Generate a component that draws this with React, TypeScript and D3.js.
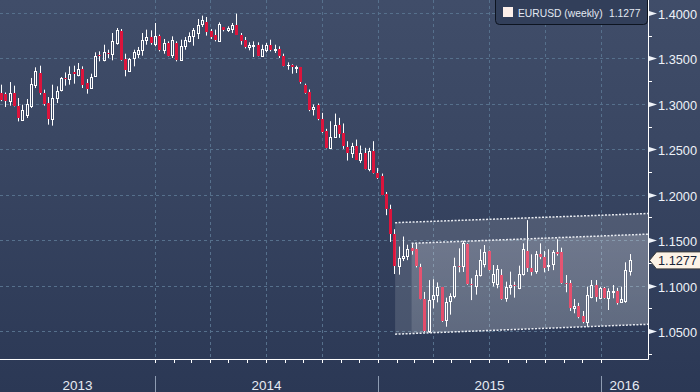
import React from "react";
import * as d3 from "d3";

// weekly EURUSD candles
const open = [1.3119,1.3112,1.3027,1.3119,1.2972,1.2826,1.2881,1.2980,1.3211,1.3339,1.3119,1.3009,1.2833,1.3064,1.3148,1.3281,1.3273,1.3347,1.3321,1.3384,1.3229,1.3174,1.3303,1.3541,1.3486,1.3560,1.3552,1.3670,1.3806,1.3494,1.3358,1.3505,1.3549,1.3589,1.3699,1.3736,1.3662,1.3751,1.3589,1.3670,1.3541,1.3670,1.3486,1.3633,1.3688,1.3743,1.3780,1.3883,1.3905,1.3798,1.3762,1.3688,1.3842,1.3809,1.3824,1.3872,1.3762,1.3706,1.3626,1.3637,1.3651,1.3530,1.3589,1.3651,1.3589,1.3604,1.3530,1.3424,1.3431,1.3398,1.3402,1.3211,1.3136,1.2938,1.2982,1.2835,1.2706,1.2516,1.2637,1.2772,1.2681,1.2527,1.2454,1.2541,1.2380,1.2461,1.2284,1.2479,1.2240,1.2204,1.2007,1.1847,1.1570,1.1210,1.1300,1.1320,1.1410,1.1400,1.1200,1.0850,1.0500,1.0850,1.0900,1.0980,1.0620,1.0833,1.0885,1.1220,1.1220,1.1455,1.1020,1.1000,1.1116,1.1234,1.1380,1.1043,1.1014,1.1116,1.0860,1.0980,1.1003,1.0977,1.1124,1.1380,1.1190,1.1164,1.1344,1.1310,1.1210,1.1234,1.1366,1.1366,1.1028,1.1025,1.0750,1.0775,1.0665,1.0602,1.0878,1.1006,1.0867,1.0970,1.0867,1.0930,1.0940,1.0815,1.0830,1.1160];
const high = [1.3211,1.3125,1.3240,1.3200,1.3064,1.2991,1.3053,1.3285,1.3402,1.3420,1.3156,1.3075,1.3211,1.3193,1.3295,1.3346,1.3413,1.3420,1.3450,1.3413,1.3273,1.3332,1.3567,1.3578,1.3651,1.3596,1.3780,1.3835,1.3824,1.3552,1.3505,1.3596,1.3626,1.3780,1.3817,1.3809,1.3890,1.3762,1.3714,1.3688,1.3743,1.3688,1.3706,1.3736,1.3787,1.3835,1.3934,1.3971,1.3956,1.3824,1.3817,1.3897,1.3846,1.3853,1.3890,1.3993,1.3780,1.3736,1.3677,1.3688,1.3677,1.3651,1.3670,1.3706,1.3651,1.3633,1.3552,1.3457,1.3435,1.3420,1.3406,1.3222,1.3158,1.2993,1.3004,1.2901,1.2725,1.2809,1.2893,1.2846,1.2784,1.2589,1.2571,1.2607,1.2541,1.2516,1.2516,1.2589,1.2295,1.2233,1.2030,1.1890,1.1620,1.1430,1.1540,1.1450,1.1460,1.1460,1.1240,1.0930,1.1060,1.1070,1.1035,1.0985,1.0867,1.0915,1.1307,1.1410,1.1490,1.1465,1.1080,1.1170,1.1400,1.1446,1.1385,1.1226,1.1226,1.1180,1.1043,1.1153,1.1043,1.1219,1.1465,1.1720,1.1344,1.1380,1.1465,1.1380,1.1400,1.1390,1.1510,1.1417,1.1116,1.1060,1.0852,1.0810,1.0720,1.0988,1.1061,1.1061,1.0985,1.0985,1.0970,1.1006,1.0975,1.0988,1.1256,1.1347];
const low = [1.3030,1.2965,1.2980,1.2972,1.2807,1.2820,1.2844,1.2954,1.3174,1.3101,1.2980,1.2771,1.2760,1.3009,1.3137,1.3200,1.3211,1.3222,1.3303,1.3174,1.3112,1.3170,1.3300,1.3468,1.3468,1.3505,1.3479,1.3651,1.3475,1.3303,1.3350,1.3413,1.3505,1.3530,1.3651,1.3651,1.3633,1.3578,1.3552,1.3523,1.3505,1.3468,1.3479,1.3596,1.3677,1.3640,1.3714,1.3846,1.3751,1.3714,1.3688,1.3685,1.3798,1.3791,1.3780,1.3760,1.3651,1.3610,1.3589,1.3516,1.3523,1.3516,1.3567,1.3578,1.3560,1.3505,1.3413,1.3376,1.3332,1.3339,1.3222,1.3112,1.2919,1.2872,1.2820,1.2680,1.2510,1.2508,1.2626,1.2626,1.2505,1.2376,1.2405,1.2385,1.2350,1.2280,1.2258,1.2233,1.2174,1.1995,1.1775,1.1480,1.1127,1.1120,1.1270,1.1280,1.1340,1.1200,1.0850,1.0490,1.0480,1.0750,1.0815,1.0600,1.0547,1.0680,1.0860,1.1146,1.1150,1.1010,1.0840,1.0900,1.1100,1.1200,1.1165,1.0990,1.0970,1.0845,1.0822,1.0900,1.0867,1.0960,1.1110,1.1150,1.1110,1.1130,1.1290,1.1146,1.1160,1.1170,1.1330,1.1020,1.0926,1.0720,1.0695,1.0640,1.0585,1.0547,1.0860,1.0822,1.0850,1.0855,1.0731,1.0860,1.0790,1.0810,1.0810,1.1110];
const close = [1.3046,1.3027,1.3119,1.2980,1.2844,1.2936,1.3002,1.3222,1.3358,1.3119,1.3002,1.2833,1.3064,1.3137,1.3284,1.3273,1.3332,1.3332,1.3384,1.3211,1.3167,1.3295,1.3530,1.3523,1.3567,1.3549,1.3688,1.3809,1.3479,1.3369,1.3494,1.3567,1.3596,1.3706,1.3736,1.3670,1.3751,1.3589,1.3670,1.3530,1.3706,1.3479,1.3640,1.3699,1.3751,1.3809,1.3872,1.3919,1.3787,1.3736,1.3699,1.3883,1.3809,1.3835,1.3872,1.3762,1.3688,1.3622,1.3644,1.3644,1.3530,1.3604,1.3651,1.3589,1.3604,1.3523,1.3420,1.3431,1.3402,1.3406,1.3237,1.3119,1.2934,1.2967,1.2835,1.2688,1.2516,1.2637,1.2772,1.2673,1.2534,1.2454,1.2541,1.2387,1.2461,1.2284,1.2479,1.2240,1.2185,1.2002,1.1847,1.1570,1.1210,1.1300,1.1325,1.1400,1.1380,1.1210,1.0855,1.0500,1.0840,1.0900,1.0980,1.0610,1.0815,1.0885,1.1220,1.1207,1.1466,1.1017,1.1005,1.1120,1.1280,1.1366,1.1170,1.1127,1.1180,1.0849,1.0988,1.1006,1.0993,1.1124,1.1403,1.1190,1.1153,1.1344,1.1310,1.1197,1.1226,1.1366,1.1347,1.1025,1.1014,1.0750,1.0778,1.0657,1.0602,1.0896,1.1006,1.0878,1.0970,1.0867,1.0940,1.0936,1.0805,1.0849,1.1171,1.1277];
const firstWeek = Date.UTC(2013, 3, 24);

const majorTicks = [1.05, 1.1, 1.15, 1.2, 1.25, 1.3, 1.35, 1.4];
const minorTicks = [1.025, 1.075, 1.125, 1.175, 1.225, 1.275, 1.325, 1.375];
const years = [2013, 2014, 2015, 2016];
const lastPrice = 1.1277;
const seriesName = "EURUSD (weekly)";

// trading channel drawn on the chart
const outerTop = [{ date: "2015-01-29", value: 1.1692 }, { date: "2016-03-18", value: 1.1793 }];
const innerTop = [{ date: "2015-02-25", value: 1.1465 }, { date: "2016-03-18", value: 1.1566 }];
const channelBottom = [{ date: "2015-01-29", value: 1.0465 }, { date: "2016-03-18", value: 1.0574 }];

const W = 700, H = 392;
const right = 648, bottom = 359;
const RED = "#dc143c";
const FONT = "'Liberation Sans', Arial, sans-serif";

export default function App() {
  const x = d3.scaleUtc().domain([new Date(Date.UTC(2014, 0, 1)), new Date(Date.UTC(2016, 0, 1))]).range([155, 601]);
  const y = d3.scaleLinear().domain([1.05, 1.4]).range([331, 13]);
  const dates = open.map((_, i) => new Date(firstWeek + i * 7 * 864e5));

  const months = x.ticks(d3.utcMonth.every(1)).filter((d) => x(d) >= 0 && x(d) <= right);
  const quarters = months.filter((d) => d.getUTCMonth() % 3 === 0);
  const yearStarts = years.map((yr) => new Date(Date.UTC(yr, 0, 1)));

  const pt = (p: { date: string; value: number }) => [x(new Date(p.date)), y(p.value)] as [number, number];
  const bottomAt = d3.scaleUtc()
    .domain(channelBottom.map((p) => new Date(p.date)))
    .range(channelBottom.map((p) => p.value));
  const innerLeftDate = new Date(innerTop[0].date);
  const outerPoly = [pt(outerTop[0]), pt(outerTop[1]), pt(channelBottom[1]), pt(channelBottom[0])];
  const innerPoly = [pt(innerTop[0]), pt(innerTop[1]), pt(channelBottom[1]), [x(innerLeftDate), y(bottomAt(innerLeftDate))]];
  const poly = (ps: number[][]) => "M" + ps.map((p) => p.join(",")).join("L") + "Z";
  const line = d3.line();

  const yLast = y(lastPrice);

  return (
    <svg width={W} height={H} style={{ position: "absolute", left: 0, top: 0 }} fontFamily={FONT}>
      <defs>
        <linearGradient id="bg" x1="0" y1="0" x2="0" y2="1">
          <stop offset="0" stopColor="#404d69" />
          <stop offset="0.35" stopColor="#3a4763" />
          <stop offset="1" stopColor="#2b3855" />
        </linearGradient>
        <linearGradient id="chan" x1="0" y1="0" x2="0" y2="1">
          <stop offset="0" stopColor="#fff" stopOpacity="0.19" />
          <stop offset="1" stopColor="#fff" stopOpacity="0.12" />
        </linearGradient>
        <clipPath id="plot">
          <rect x={0} y={0} width={right} height={bottom} />
        </clipPath>
      </defs>
      <rect width={W} height={H} fill="url(#bg)" />

      {/* grid */}
      <g stroke="#56708c" strokeDasharray="3,3" strokeWidth={1}>
        {majorTicks.map((t) => (
          <line key={t} x1={0} x2={right} y1={Math.round(y(t)) + 0.5} y2={Math.round(y(t)) + 0.5} />
        ))}
        {quarters.map((d) => (
          <line key={+d} x1={Math.round(x(d)) + 0.5} x2={Math.round(x(d)) + 0.5} y1={0} y2={bottom} />
        ))}
      </g>

      {/* candles */}
      <g clipPath="url(#plot)">
        {dates.map((d, i) => {
          const cx = Math.round(x(d)) + 0.5;
          const o = open[i], c = close[i];
          const yT = Math.round(y(Math.max(o, c)));
          const yB = Math.round(y(Math.min(o, c)));
          const yH = y(high[i]), yL = y(low[i]);
          if (c >= o) {
            return (
              <g key={i} stroke="#fff" fill="none" strokeWidth={1}>
                <line x1={cx} x2={cx} y1={yH} y2={yT} />
                <line x1={cx} x2={cx} y1={yB} y2={yL} />
                {yB - yT < 1 ? (
                  <line x1={cx - 1.5} x2={cx + 1.5} y1={yT + 0.5} y2={yT + 0.5} />
                ) : (
                  <rect x={cx - 1} y={yT + 0.5} width={2} height={yB - yT} />
                )}
              </g>
            );
          }
          return (
            <g key={i}>
              <line x1={cx} x2={cx} y1={yH} y2={yL} stroke="#fff" strokeWidth={1} />
              <rect x={cx - 1.5} y={yT} width={3} height={Math.max(1, yB - yT)} fill={RED} />
            </g>
          );
        })}
      </g>

      {/* channel */}
      <g clipPath="url(#plot)">
        <path d={poly(outerPoly)} fill="#fff" fillOpacity={0.13} />
        <path d={poly(innerPoly)} fill="url(#chan)" />
        <g fill="none" stroke="#e8ebf1" strokeWidth={1.5} strokeDasharray="2,1.5">
          <path d={line([pt(outerTop[0]), pt(outerTop[1])]) as string} />
          <path d={line([pt(innerTop[0]), pt(innerTop[1])]) as string} />
          <path d={line([pt(channelBottom[0]), pt(channelBottom[1])]) as string} />
        </g>
      </g>

      {/* x axis */}
      <g stroke="#fff" strokeWidth={1}>
        <line x1={0} x2={right + 0.5} y1={bottom + 0.5} y2={bottom + 0.5} />
        {months.map((d) => (
          <line key={+d} x1={Math.round(x(d)) + 0.5} x2={Math.round(x(d)) + 0.5} y1={bottom} y2={bottom + 4} />
        ))}
      </g>
      <g stroke="#8e9cb2" strokeWidth={1}>
        {yearStarts.filter((d) => x(d) > 0 && x(d) < right).map((d) => (
          <line key={+d} x1={Math.round(x(d)) + 0.5} x2={Math.round(x(d)) + 0.5} y1={376} y2={H} />
        ))}
      </g>
      <g fill="#e6ebf3" fontSize={13.5} textAnchor="middle">
        {years.map((yr) => {
          const a = Math.max(0, x(new Date(Date.UTC(yr, 0, 1))));
          const b = Math.min(right, x(new Date(Date.UTC(yr + 1, 0, 1))));
          return (
            <text key={yr} x={(a + b) / 2} y={390}>{yr}</text>
          );
        })}
      </g>

      {/* y axis */}
      <g stroke="#fff" strokeWidth={1}>
        <line x1={right + 0.5} x2={right + 0.5} y1={0} y2={bottom + 0.5} />
        {minorTicks.map((t) => (
          <line key={t} x1={right} x2={right + 4} y1={Math.round(y(t)) + 0.5} y2={Math.round(y(t)) + 0.5} />
        ))}
      </g>
      <g fill="#eef2f8" fontSize={13.5}>
        {majorTicks.map((t) => {
          const yy = Math.round(y(t)) + 0.5;
          return (
            <g key={t}>
              <path d={`M${right + 1},${yy - 2.5}L${right + 9},${yy}L${right + 1},${yy + 2.5}Z`} />
              <text x={658} y={yy + 5} textLength={39} lengthAdjust="spacingAndGlyphs">{d3.format(".4f")(t)}</text>
            </g>
          );
        })}
      </g>

      {/* last price tag */}
      <path
        d={`M${right + 1.5},${yLast}L${right + 8.5},${yLast - 8.5}L${W + 1},${yLast - 8.5}L${W + 1},${yLast + 8.5}L${right + 8.5},${yLast + 8.5}Z`}
        fill="#fdf3e6" stroke="#3a3a3a" strokeWidth={1}
      />
      <text x={658} y={yLast + 5} fontSize={13.5} fill="#1b2436" textLength={39} lengthAdjust="spacingAndGlyphs">
        {d3.format(".4f")(lastPrice)}
      </text>

      {/* legend */}
      <rect x={495.5} y={-4.5} width={152} height={29} rx={4} fill="#323f5a" stroke="#0d1420" strokeWidth={1} />
      <rect x={503} y={7} width={10} height={10} fill="#fdf0ea" />
      <text y={17} fontSize={10.3} fill="#e3e9f2">
        <tspan x={518}>{seriesName}</tspan>
        <tspan x={609}>{d3.format(".4f")(lastPrice)}</tspan>
      </text>
    </svg>
  );
}
